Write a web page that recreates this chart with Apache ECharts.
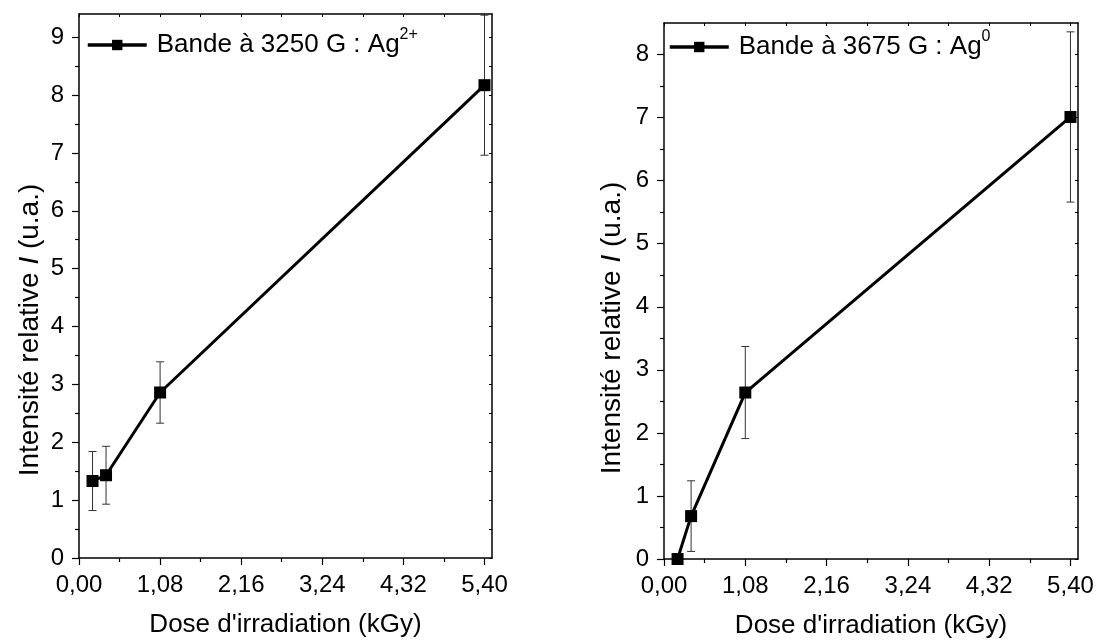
<!DOCTYPE html>
<html>
<head>
<meta charset="utf-8">
<script src="https://cdn.jsdelivr.net/npm/echarts@6/dist/echarts.min.js"></script>
<style>html,body{margin:0;padding:0;background:#fff}#c{width:1096px;height:640px}</style>
</head>
<body>
<div id="c"></div>
<script>
// ---- data ----
const xTickValues = [0, 1.08, 2.16, 3.24, 4.32, 5.40];
const leftYTicks = [0, 1, 2, 3, 4, 5, 6, 7, 8, 9];
const rightYTicks = [0, 1, 2, 3, 4, 5, 6, 7, 8];
const doseAg2 = [0.18, 0.36, 1.08, 5.40];
const intensityAg2 = [1.33, 1.43, 2.86, 8.17];
const errorAg2 = [0.51, 0.50, 0.53, 1.21];
const doseAg0 = [0.18, 0.36, 1.08, 5.40];
const intensityAg0 = [0.00, 0.68, 2.64, 7.01];
const errorAg0 = [0.00, 0.56, 0.73, 1.35];
const nameAg2 = 'Bande à 3250 G : Ag2+';
const nameAg0 = 'Bande à 3675 G : Ag0';
const xName = "Dose d'irradiation (kGy)";

const FONT = "'Liberation Sans', Arial, sans-serif";
const mids = arr => arr.slice(1).map((v, i) => (arr[i] + v) / 2);
const halfSteps = arr => arr.concat(mids(arr)).sort((a, b) => a - b);
const fmtX = v => v.toFixed(2).replace('.', ',');

function mainX(grid, max) {
  return {
    type: 'value', gridIndex: grid, position: 'bottom', min: 0, max: max,
    axisLine: { show: true, onZero: false, lineStyle: { color: '#000', width: 1.5 } },
    axisTick: { show: true, inside: false, length: 7, lineStyle: { color: '#000', width: 1.2 }, customValues: xTickValues },
    axisLabel: { show: true, margin: 15, fontSize: 24, color: '#000', fontFamily: FONT, customValues: xTickValues, formatter: fmtX },
    splitLine: { show: false },
    name: xName, nameLocation: 'middle', nameGap: 54,
    nameTextStyle: { fontSize: 26, color: '#000', fontFamily: FONT }
  };
}
function minorX(grid, max) {
  return {
    type: 'value', gridIndex: grid, position: 'bottom', min: 0, max: max,
    axisLine: { show: false },
    axisTick: { show: true, inside: false, length: 4, lineStyle: { color: '#000', width: 1.2 }, customValues: mids(xTickValues) },
    axisLabel: { show: false }, splitLine: { show: false }
  };
}
function topX(grid, max) {
  return {
    type: 'value', gridIndex: grid, position: 'top', min: 0, max: max,
    axisLine: { show: true, onZero: false, lineStyle: { color: '#000', width: 1.5 } },
    axisTick: { show: true, inside: true, length: 3, lineStyle: { color: '#000', width: 1 }, customValues: halfSteps(xTickValues) },
    axisLabel: { show: false }, splitLine: { show: false }
  };
}
function mainY(grid, max, ticks) {
  return {
    type: 'value', gridIndex: grid, position: 'left', min: 0, max: max,
    axisLine: { show: true, onZero: false, lineStyle: { color: '#000', width: 1.5 } },
    axisTick: { show: true, inside: false, length: 7, lineStyle: { color: '#000', width: 1.2 }, customValues: ticks },
    axisLabel: { show: true, margin: 15, fontSize: 24, color: '#000', fontFamily: FONT, customValues: ticks },
    splitLine: { show: false }
  };
}
function minorY(grid, max, ticks) {
  const m = mids(ticks).concat([ticks[ticks.length - 1] + 0.5]).filter(v => v < max);
  return {
    type: 'value', gridIndex: grid, position: 'left', min: 0, max: max,
    axisLine: { show: false },
    axisTick: { show: true, inside: false, length: 4, lineStyle: { color: '#000', width: 1.2 }, customValues: m },
    axisLabel: { show: false }, splitLine: { show: false }
  };
}
function rightY(grid, max, ticks) {
  const m = halfSteps(ticks).concat([ticks[ticks.length - 1] + 0.5]).filter(v => v < max);
  return {
    type: 'value', gridIndex: grid, position: 'right', min: 0, max: max,
    axisLine: { show: true, onZero: false, lineStyle: { color: '#000', width: 1.5 } },
    axisTick: { show: true, inside: true, length: 3, lineStyle: { color: '#000', width: 1 }, customValues: m },
    axisLabel: { show: false }, splitLine: { show: false }
  };
}

function errRender(params, api) {
  const x = api.value(0), y = api.value(1), e = api.value(2);
  if (!e) return { type: 'group', children: [] };
  const hi = api.coord([x, y + e]);
  const lo = api.coord([x, y - e]);
  const cap = 4;
  const st = { stroke: '#333', lineWidth: 1 };
  return {
    type: 'group',
    children: [
      { type: 'line', shape: { x1: hi[0], y1: hi[1], x2: lo[0], y2: lo[1] }, style: st },
      { type: 'line', shape: { x1: hi[0] - cap, y1: hi[1], x2: hi[0] + cap, y2: hi[1] }, style: st },
      { type: 'line', shape: { x1: lo[0] - cap, y1: lo[1], x2: lo[0] + cap, y2: lo[1] }, style: st }
    ]
  };
}

function lineSeries(name, xi, yi, xs, ys) {
  return {
    name: name, type: 'line', xAxisIndex: xi, yAxisIndex: yi,
    data: xs.map((d, i) => [d, ys[i]]),
    symbol: 'rect', symbolSize: 12, showSymbol: true, clip: false,
    lineStyle: { color: '#000', width: 3 },
    itemStyle: { color: '#000' },
    z: 5, animation: false
  };
}
function errSeries(xi, yi, xs, ys, es) {
  return {
    type: 'custom', xAxisIndex: xi, yAxisIndex: yi, clip: true,
    data: xs.map((d, i) => [d, ys[i], es[i]]),
    renderItem: errRender, z: 2, silent: true, animation: false
  };
}

const legendRich = {
  a: { fontSize: 26, fontFamily: FONT, color: '#000', padding: [0, 0, 0, 5] },
  s: { fontSize: 16, fontFamily: FONT, color: '#000', verticalAlign: 'top', padding: [0, 0, 20, 0] }
};
const legendFmt = name => {
  const m = name.match(/^(.*Ag)(.*)$/);
  return '{a|' + m[1] + '}{s|' + m[2] + '}';
};
function legend(name, left, top) {
  return {
    data: [name], left: left, top: top, orient: 'horizontal',
    itemWidth: 59, itemHeight: 13, padding: 0,
    formatter: legendFmt,
    lineStyle: { width: 3.5, color: '#000' },
    textStyle: { rich: legendRich, color: '#000' },
    selectedMode: false
  };
}
function yNameText(x, y) {
  return {
    type: 'text', x: x, y: y, rotation: Math.PI / 2,
    style: {
      text: '{n|Intensité relative }{i|I}{n| (u.a.)}',
      rich: {
        n: { fontSize: 28, fontFamily: FONT, fill: '#000' },
        i: { fontSize: 28, fontFamily: FONT, fontStyle: 'italic', fill: '#000' }
      },
      align: 'center', verticalAlign: 'middle'
    }
  };
}

const chart = echarts.init(document.getElementById('c'), null, { renderer: 'canvas' });
chart.setOption({
  backgroundColor: '#fff',
  animation: false,
  grid: [
    { left: 79, top: 14, width: 413, height: 544, containLabel: false, outerBoundsMode: 'none' },
    { left: 664, top: 23, width: 414, height: 536, containLabel: false, outerBoundsMode: 'none' }
  ],
  xAxis: [mainX(0, 5.5), minorX(0, 5.5), topX(0, 5.5), mainX(1, 5.5), minorX(1, 5.5), topX(1, 5.5)],
  yAxis: [mainY(0, 9.4, leftYTicks), minorY(0, 9.4, leftYTicks), rightY(0, 9.4, leftYTicks),
          mainY(1, 8.5, rightYTicks), minorY(1, 8.5, rightYTicks), rightY(1, 8.5, rightYTicks)],
  legend: [legend(nameAg2, 86, 27), legend(nameAg0, 668, 29)],
  graphic: [yNameText(30, 330), yNameText(612, 328)],
  series: [
    errSeries(0, 0, doseAg2, intensityAg2, errorAg2),
    lineSeries(nameAg2, 0, 0, doseAg2, intensityAg2),
    errSeries(3, 3, doseAg0, intensityAg0, errorAg0),
    lineSeries(nameAg0, 3, 3, doseAg0, intensityAg0)
  ]
});
</script>
</body>
</html>
